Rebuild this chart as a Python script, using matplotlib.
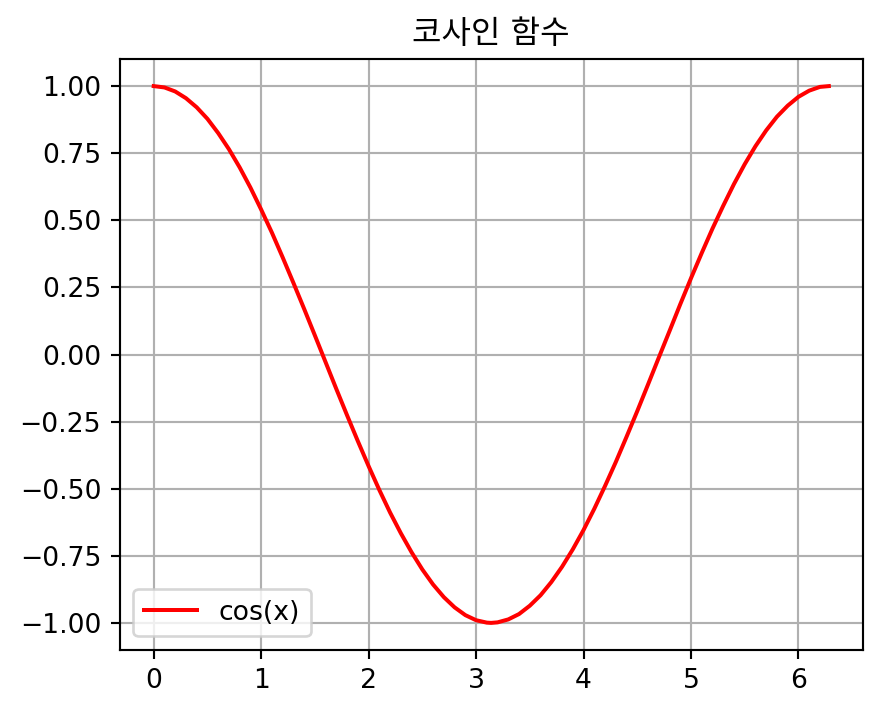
import matplotlib
matplotlib.use('Agg')
import matplotlib.pyplot as plt

plt.rcParams['font.family'] = ['DejaVu Sans', 'Noto Sans CJK KR']

# Points
x_vals = [0.0, 0.1, 0.2, 0.3, 0.4, 0.5, 0.6, 0.7, 0.8, 0.9, 1.0, 1.1, 1.2, 1.3,
          1.4, 1.5, 1.6, 1.7, 1.8, 1.9, 2.0, 2.1, 2.2, 2.3, 2.4, 2.5, 2.6, 2.7,
          2.8, 2.9, 3.0, 3.1, 3.14, 3.2, 3.3, 3.4, 3.5, 3.6, 3.7, 3.8, 3.9, 4.0,
          4.1, 4.2, 4.3, 4.4, 4.5, 4.6, 4.7, 4.8, 4.9, 5.0, 5.1, 5.2, 5.3, 5.4,
          5.5, 5.6, 5.7, 5.8, 5.9, 6.0, 6.1, 6.2, 6.283]
y_vals = [1.000, 0.995, 0.980, 0.955, 0.921, 0.878, 0.825, 0.765, 0.697, 0.622,
          0.540, 0.454, 0.362, 0.267, 0.170, 0.071, -0.029, -0.129, -0.227, -0.323,
          -0.416, -0.505, -0.589, -0.666, -0.737, -0.801, -0.857, -0.904, -0.942,
          -0.971, -0.990, -0.999, -1.000, -0.998, -0.987, -0.967, -0.936, -0.897,
          -0.848, -0.791, -0.726, -0.654, -0.575, -0.490, -0.401, -0.307, -0.211,
          -0.112, -0.012, 0.087, 0.187, 0.284, 0.378, 0.469, 0.554, 0.635, 0.709,
          0.776, 0.835, 0.886, 0.927, 0.960, 0.983, 0.997, 1.000]

title = '코사인 함수'
series_label = 'cos(x)'

fig, ax = plt.subplots(figsize=(882 / 192, 714 / 192), dpi=192)
fig.subplots_adjust(left=0.136, right=0.978, top=0.917, bottom=0.090)

ax.plot(x_vals, y_vals, color='red', label=series_label)
ax.set_title(title)
ax.grid(True)
ax.legend(loc='lower left')

plt.savefig('out.png', dpi=192)
